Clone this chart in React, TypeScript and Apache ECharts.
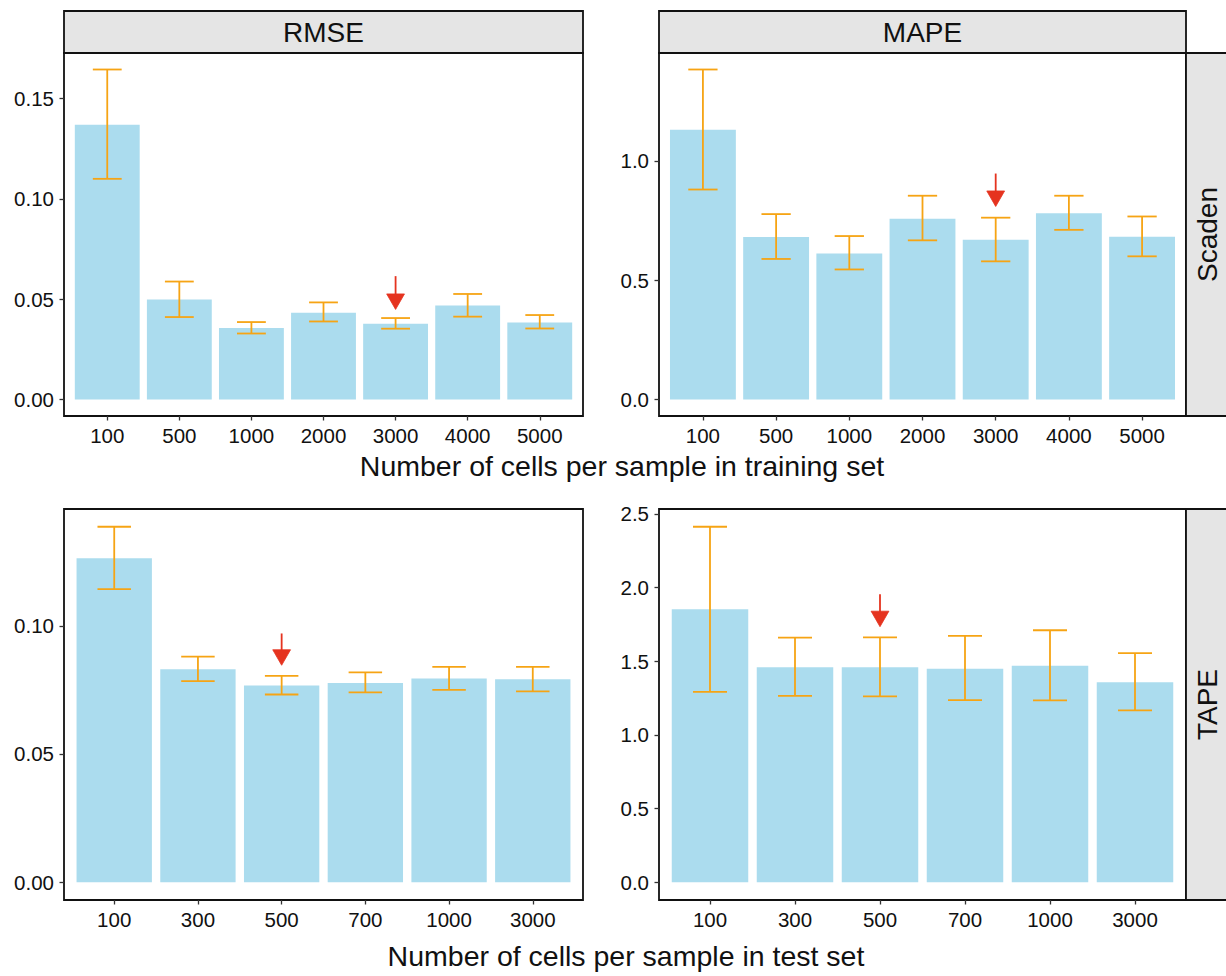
import React, { useEffect, useRef } from "react";
import * as echarts from "echarts";

// ---------- data ----------
const trainCategories = ["100", "500", "1000", "2000", "3000", "4000", "5000"];
const testCategories = ["100", "300", "500", "700", "1000", "3000"];

const rmseTrainMean = [0.137, 0.0498, 0.0356, 0.0433, 0.0378, 0.0468, 0.0384];
const rmseTrainLow = [0.110, 0.0411, 0.0329, 0.0389, 0.0353, 0.0413, 0.0354];
const rmseTrainHigh = [0.1645, 0.0588, 0.0386, 0.0484, 0.0406, 0.0526, 0.0421];

const mapeTrainMean = [1.131, 0.681, 0.612, 0.758, 0.670, 0.781, 0.682];
const mapeTrainLow = [0.880, 0.589, 0.545, 0.667, 0.579, 0.711, 0.600];
const mapeTrainHigh = [1.383, 0.777, 0.685, 0.854, 0.762, 0.854, 0.767];

const rmseTestMean = [0.1263, 0.0830, 0.0767, 0.0777, 0.0794, 0.0791];
const rmseTestLow = [0.1143, 0.0784, 0.0732, 0.0740, 0.0750, 0.0744];
const rmseTestHigh = [0.1386, 0.0880, 0.0805, 0.0818, 0.0840, 0.0840];

const mapeTestMean = [1.853, 1.459, 1.459, 1.449, 1.469, 1.357];
const mapeTestLow = [1.291, 1.264, 1.261, 1.236, 1.234, 1.166];
const mapeTestHigh = [2.412, 1.660, 1.662, 1.671, 1.710, 1.554];

const rmseTrainTicks = [0, 0.05, 0.1, 0.15];
const mapeTrainTicks = [0, 0.5, 1.0];
const rmseTestTicks = [0, 0.05, 0.1];
const mapeTestTicks = [0, 0.5, 1.0, 1.5, 2.0, 2.5];

// arrows: [category index, start value, tip value]
const rmseTrainArrow = [4, 0.0615, 0.0449];
const mapeTrainArrow = [4, 0.947, 0.809];
const rmseTestArrow = [2, 0.097, 0.0846];
const mapeTestArrow = [2, 1.954, 1.734];

const columnStrips = ["RMSE", "MAPE"];
const rowStrips = ["Scaden", "TAPE"];
const trainTitle = "Number of cells per sample in training set";
const testTitle = "Number of cells per sample in test set";

// ---------- styles ----------
const FONT = "'Liberation Sans', Arial, Helvetica, sans-serif";
const BAR_COLOR = "#ABDCEE";
const ERR_COLOR = "#F6A414";
const ARROW_COLOR = "#E5331F";
const TEXT_COLOR = "#111111";
const STRIP_FILL = "#E5E5E5";
const BORDER = "#111111";

const panels = [
  { cats: trainCategories, mean: rmseTrainMean, low: rmseTrainLow, high: rmseTrainHigh, ticks: rmseTrainTicks, digits: 2, arrow: rmseTrainArrow, grid: { left: 64, top: 53, width: 519, height: 363 } },
  { cats: trainCategories, mean: mapeTrainMean, low: mapeTrainLow, high: mapeTrainHigh, ticks: mapeTrainTicks, digits: 1, arrow: mapeTrainArrow, grid: { left: 659, top: 53, width: 527, height: 363 } },
  { cats: testCategories, mean: rmseTestMean, low: rmseTestLow, high: rmseTestHigh, ticks: rmseTestTicks, digits: 2, arrow: rmseTestArrow, grid: { left: 64, top: 509, width: 519, height: 391 } },
  { cats: testCategories, mean: mapeTestMean, low: mapeTestLow, high: mapeTestHigh, ticks: mapeTestTicks, digits: 1, arrow: mapeTestArrow, grid: { left: 659, top: 509, width: 527, height: 391 } },
];

function buildOption() {
  const grids: any[] = [];
  const xAxes: any[] = [];
  const yAxes: any[] = [];
  const series: any[] = [];

  panels.forEach((p, k) => {
    grids.push({
      ...p.grid,
      show: true,
      backgroundColor: "#ffffff",
      borderColor: BORDER,
      borderWidth: 1.8,
      containLabel: false,
    });
    const n = p.cats.length;
    const idx = p.cats.map((_, i) => i);
    xAxes.push({
      type: "value",
      gridIndex: k,
      position: "bottom",
      min: -0.6,
      max: n - 0.4,
      axisLine: { show: false, onZero: false },
      splitLine: { show: false },
      axisTick: { show: true, customValues: idx, length: 4.5, lineStyle: { color: "#333333", width: 1.3 } },
      axisLabel: {
        show: true,
        customValues: idx,
        margin: 9,
        fontSize: 20.5,
        fontFamily: FONT,
        color: TEXT_COLOR,
        formatter: (v: number) => p.cats[Math.round(v)] ?? "",
      },
    });
    const top = Math.max(...p.high);
    yAxes.push({
      type: "value",
      gridIndex: k,
      position: "left",
      min: -0.05 * top,
      max: 1.05 * top,
      axisLine: { show: false, onZero: false },
      splitLine: { show: false },
      axisTick: { show: true, customValues: p.ticks, length: 4.5, lineStyle: { color: "#333333", width: 1.3 } },
      axisLabel: {
        show: true,
        customValues: p.ticks,
        margin: 10,
        fontSize: 20.5,
        fontFamily: FONT,
        color: TEXT_COLOR,
        formatter: (v: number) => v.toFixed(p.digits),
      },
    });

    series.push({
      type: "custom",
      xAxisIndex: k,
      yAxisIndex: k,
      data: p.mean.map((v, i) => [i, v]),
      encode: { x: 0, y: 1 },
      renderItem: (_params: any, api: any) => {
        const i = api.value(0);
        const v = api.value(1);
        const a = api.coord([i - 0.45, v]);
        const b = api.coord([i + 0.45, 0]);
        return {
          type: "rect",
          shape: { x: a[0], y: a[1], width: b[0] - a[0], height: b[1] - a[1] },
          style: { fill: BAR_COLOR },
        };
      },
      silent: true,
      z: 2,
    });

    series.push({
      type: "custom",
      xAxisIndex: k,
      yAxisIndex: k,
      data: p.low.map((l, i) => [i, l, p.high[i]]),
      encode: { x: 0, y: [1, 2] },
      renderItem: (_params: any, api: any) => {
        const i = api.value(0);
        const lo = api.coord([i, api.value(1)]);
        const hi = api.coord([i, api.value(2)]);
        const cl = api.coord([i - 0.2, api.value(1)]);
        const cr = api.coord([i + 0.2, api.value(1)]);
        const hc = (cr[0] - cl[0]) / 2;
        const st = { stroke: ERR_COLOR, lineWidth: 1.8 };
        return {
          type: "group",
          children: [
            { type: "line", shape: { x1: lo[0], y1: lo[1], x2: hi[0], y2: hi[1] }, style: st },
            { type: "line", shape: { x1: lo[0] - hc, y1: lo[1], x2: lo[0] + hc, y2: lo[1] }, style: st },
            { type: "line", shape: { x1: hi[0] - hc, y1: hi[1], x2: hi[0] + hc, y2: hi[1] }, style: st },
          ],
        };
      },
      silent: true,
      z: 3,
    });

    series.push({
      type: "custom",
      xAxisIndex: k,
      yAxisIndex: k,
      data: [p.arrow],
      encode: { x: 0, y: [1, 2] },
      renderItem: (_params: any, api: any) => {
        const i = api.value(0);
        const s = api.coord([i, api.value(1)]);
        const t = api.coord([i, api.value(2)]);
        const L = 15.5;
        const hw = 8.9;
        return {
          type: "group",
          children: [
            { type: "line", shape: { x1: s[0], y1: s[1], x2: t[0], y2: t[1] - L + 2 }, style: { stroke: ARROW_COLOR, lineWidth: 1.8 } },
            {
              type: "polygon",
              shape: { points: [[t[0], t[1]], [t[0] - hw, t[1] - L], [t[0] + hw, t[1] - L]] },
              style: { fill: ARROW_COLOR, stroke: ARROW_COLOR, lineWidth: 0.8 },
            },
          ],
        };
      },
      silent: true,
      z: 4,
    });
  });

  const stripText = (text: string, x: number, y: number, rotation = 0) => ({
    type: "text",
    x,
    y,
    rotation,
    silent: true,
    z: 11,
    style: { text, fontSize: 28, fontFamily: FONT, fill: TEXT_COLOR, align: "center", verticalAlign: "middle" },
  });
  const stripRect = (x: number, y: number, w: number, h: number) => ({
    type: "rect",
    silent: true,
    z: 10,
    shape: { x, y, width: w, height: h },
    style: { fill: STRIP_FILL, stroke: BORDER, lineWidth: 1.8 },
  });

  const graphic = [
    stripRect(64, 11, 519, 42),
    stripText(columnStrips[0], 323.5, 32),
    stripRect(659, 11, 527, 42),
    stripText(columnStrips[1], 922.5, 32),
    stripRect(1186, 53, 46, 363),
    stripText(rowStrips[0], 1207, 234.5, Math.PI / 2),
    stripRect(1186, 509, 46, 391),
    stripText(rowStrips[1], 1207, 704.5, Math.PI / 2),
    {
      type: "text", x: 622, y: 466, silent: true,
      style: { text: trainTitle, fontSize: 28.5, fontFamily: FONT, fill: TEXT_COLOR, align: "center", verticalAlign: "middle" },
    },
    {
      type: "text", x: 626, y: 956, silent: true,
      style: { text: testTitle, fontSize: 28.5, fontFamily: FONT, fill: TEXT_COLOR, align: "center", verticalAlign: "middle" },
    },
  ];

  return {
    animation: false,
    backgroundColor: "#ffffff",
    grid: grids,
    xAxis: xAxes,
    yAxis: yAxes,
    series,
    graphic,
  };
}

export default function App() {
  const ref = useRef<HTMLDivElement>(null);
  useEffect(() => {
    document.body.style.margin = "0";
    if (!ref.current) return;
    const chart = echarts.init(ref.current, null, { renderer: "svg" });
    chart.setOption(buildOption() as any);
    return () => {
      chart.dispose();
    };
  }, []);
  return <div ref={ref} style={{ width: 1226, height: 976 }} />;
}
